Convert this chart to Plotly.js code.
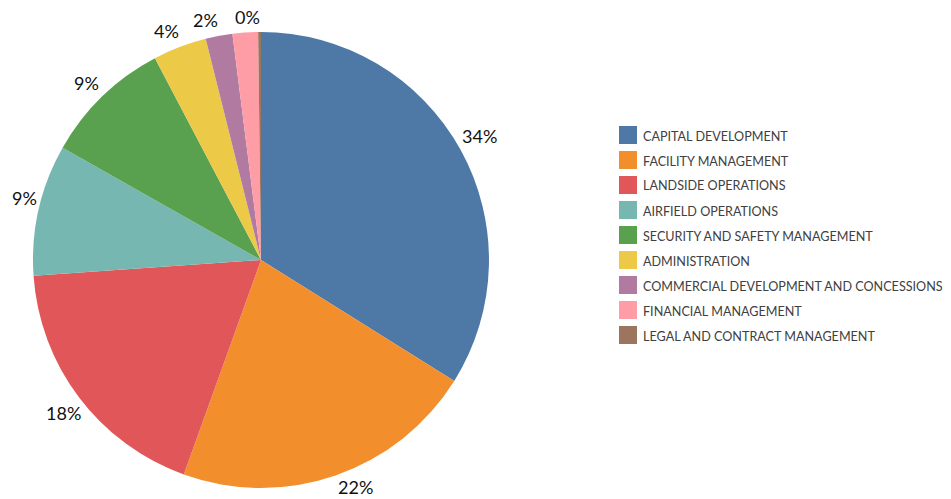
<!DOCTYPE html>
<html><head><meta charset="utf-8">
<script src="https://cdn.plot.ly/plotly-3.0.1.min.js"></script>
<style>html,body{margin:0;padding:0;background:#fff}#chart{width:951px;height:499px}</style>
</head><body><div id="chart"></div>
<script>
const labels = ["CAPITAL DEVELOPMENT","FACILITY MANAGEMENT","LANDSIDE OPERATIONS","AIRFIELD OPERATIONS","SECURITY AND SAFETY MANAGEMENT","ADMINISTRATION","COMMERCIAL DEVELOPMENT AND CONCESSIONS","FINANCIAL MANAGEMENT","LEGAL AND CONTRACT MANAGEMENT"];
const values = [33.9, 21.6, 18.4, 9.3, 9.1, 3.8, 1.9, 1.8, 0.2];
const colors = ["#4e79a7","#f28e2b","#e15759","#76b7b2","#59a14f","#edc948","#b07aa1","#ff9da7","#9c755f"];
// which slices get a visible percent label (financial label is not shown in the original)
const showLabel = [true, true, true, true, true, true, true, false, true];
// label nudges in pixels [right, down]
const labelShift = [[2,-4],[13,-7],[0,3],[5,-7],[-2,1],[-6,3],[-10,4],[0,0],[-12,5]];

const W = 951, H = 499;
const cx = 261, cy = 260, R = 228;
const font = "Lato, 'Open Sans', sans-serif";

const trace = {
  type: "pie",
  labels: labels,
  values: values,
  sort: false,
  direction: "clockwise",
  rotation: 0,
  marker: {colors: colors, line: {width: 0}},
  textinfo: "none",
  hoverinfo: "label+percent",
  showlegend: false,
  domain: {x: [(cx - R) / W, (cx + R) / W], y: [(H - cy - R) / H, (H - cy + R) / H]}
};

const total = values.reduce((a, b) => a + b, 0);
const annotations = [];
let cum = 0;
values.forEach((v, i) => {
  const mid = (cum + v / 2) / total * 2 * Math.PI;
  cum += v;
  if (!showLabel[i]) return;
  const d = 248;
  const px = cx + d * Math.sin(mid) + labelShift[i][0];
  const py = cy - d * Math.cos(mid) + labelShift[i][1];
  annotations.push({
    xref: "paper", yref: "paper", x: px / W, y: 1 - py / H,
    xanchor: "center", yanchor: "middle", showarrow: false,
    text: Math.round(v / total * 100) + "%",
    font: {family: font, size: 18, color: "#111"}
  });
});

// legend drawn as swatches + labels
const shapes = [];
const legX = 619, legY0 = 135, legStep = 25, sw = 18;
labels.forEach((lab, i) => {
  const yc = legY0 + i * legStep;
  shapes.push({
    type: "rect", xref: "paper", yref: "paper",
    x0: legX / W, x1: (legX + sw) / W,
    y0: 1 - (yc + sw / 2) / H, y1: 1 - (yc - sw / 2) / H,
    fillcolor: colors[i], line: {width: 0}
  });
  annotations.push({
    xref: "paper", yref: "paper", x: (legX + sw + 4) / W, y: 1 - (yc + 1) / H,
    xanchor: "left", yanchor: "middle", showarrow: false,
    text: lab, font: {family: font, size: 12.6, color: "#404040"}
  });
});

const layout = {
  width: W, height: H,
  margin: {l: 0, r: 0, t: 0, b: 0},
  paper_bgcolor: "#fff",
  showlegend: false,
  shapes: shapes,
  annotations: annotations
};
Plotly.newPlot("chart", [trace], layout, {displayModeBar: false});
</script></body></html>
